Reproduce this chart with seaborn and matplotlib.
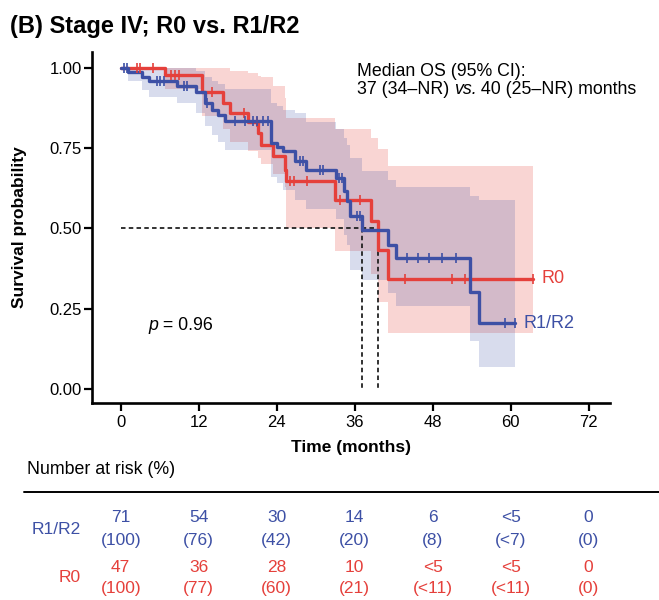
import numpy as np
import pandas as pd
import matplotlib
matplotlib.use("Agg")
import matplotlib.pyplot as plt
import seaborn as sns

# ---------------- data ----------------
# R1/R2 Kaplan-Meier steps
r12_time = [0, 1.2, 3.3, 4.4, 8.7, 11.6, 13.0, 14.0, 15.0, 16.0, 23.1, 24.0, 25.0, 26.8,
            28.5, 33.2, 34.3, 34.8, 35.3, 37.1, 41.2, 42.4, 53.7, 55.1]
r12_surv = [1.0, 0.986, 0.972, 0.958, 0.944, 0.923, 0.891, 0.870, 0.852, 0.833, 0.766, 0.752,
            0.740, 0.709, 0.683, 0.657, 0.616, 0.584, 0.540, 0.496, 0.450, 0.407, 0.304, 0.206]
r12_lower = [1.0, 0.958, 0.93, 0.91, 0.89, 0.86, 0.82, 0.79, 0.77, 0.745, 0.66, 0.64,
             0.62, 0.59, 0.56, 0.53, 0.48, 0.45, 0.37, 0.34, 0.30, 0.26, 0.15, 0.07]
r12_upper = [1.0, 1.0, 1.0, 1.0, 1.0, 0.99, 0.97, 0.96, 0.95, 0.935, 0.89, 0.88,
             0.87, 0.86, 0.83, 0.81, 0.78, 0.76, 0.72, 0.68, 0.65, 0.63, 0.60, 0.59]
r12_end = 60.7
r12_censor = [0.5, 0.9, 5.6, 6.1, 6.6, 9.7, 10.2, 13.3, 17.6, 19.1, 20.4, 20.9, 21.9, 22.7,
              27.6, 28.1, 30.7, 31.1, 33.6, 34.0, 36.4, 36.8, 44.0, 45.8, 47.4, 49.5,
              51.6, 59.1, 60.7]

# R0 Kaplan-Meier steps
r0_time = [0, 6.8, 12.5, 15.8, 16.8, 19.6, 21.2, 21.6, 23.5, 25.3, 25.5, 32.9, 38.5, 39.6, 41.2]
r0_surv = [1.0, 0.977, 0.923, 0.891, 0.860, 0.832, 0.797, 0.761, 0.725, 0.683, 0.647,
           0.590, 0.522, 0.432, 0.344]
r0_lower = [1.0, 0.935, 0.85, 0.81, 0.77, 0.74, 0.72, 0.70, 0.67, 0.63, 0.50,
            0.43, 0.36, 0.27, 0.175]
r0_upper = [1.0, 1.0, 1.0, 1.0, 0.99, 0.985, 0.975, 0.97, 0.943, 0.906, 0.845,
            0.81, 0.78, 0.746, 0.694]
r0_end = 63.5
r0_censor = [2.5, 3.0, 5.0, 7.8, 8.4, 8.9, 14.0, 18.9, 20.9, 26.0, 26.6, 28.6, 33.7,
             36.8, 43.7, 50.9, 52.9, 63.5]

median_r12 = 37.1
median_r0 = 39.6

groups = ["R1/R2", "R0"]
risk_times = [0, 12, 24, 36, 48, 60, 72]
risk_r12_n = ["71", "54", "30", "14", "6", "<5", "0"]
risk_r12_pct = ["(100)", "(76)", "(42)", "(20)", "(8)", "(<7)", "(0)"]
risk_r0_n = ["47", "36", "28", "10", "<5", "<5", "0"]
risk_r0_pct = ["(100)", "(77)", "(60)", "(21)", "(<11)", "(<11)", "(0)"]

x_ticks = [0, 12, 24, 36, 48, 60, 72]
y_ticks = [0.0, 0.25, 0.5, 0.75, 1.0]

# ---------------- style ----------------
RED = "#E5403B"
BLUE = "#3D50A5"
sns.set_style("ticks")
plt.rcParams["font.family"] = ["Liberation Sans", "DejaVu Sans"]
plt.rcParams["text.color"] = "black"
plt.rcParams["axes.labelcolor"] = "black"
plt.rcParams["xtick.color"] = "black"
plt.rcParams["ytick.color"] = "black"

fig = plt.figure(figsize=(6.59, 6.0), dpi=100)
ax = fig.add_axes([92 / 659, 197 / 600, 518 / 659, 351 / 600])

xmin, xmax = -4.415, 75.28
ymin, ymax = -0.0426, 1.0488


def ext(t, v, end):
    return np.array(list(t) + [end]), np.array(list(v) + [v[-1]])


rows = []
for g, t, s, end in [("R0", r0_time, r0_surv, r0_end), ("R1/R2", r12_time, r12_surv, r12_end)]:
    tt, ss = ext(t, s, end)
    for a, b in zip(tt, ss):
        rows.append({"group": g, "time": a, "surv": b})
df = pd.DataFrame(rows)

# confidence bands
for t, lo, hi, end, col, al in [(r0_time, r0_lower, r0_upper, r0_end, RED, 0.22),
                                (r12_time, r12_lower, r12_upper, r12_end, BLUE, 0.20)]:
    tt, ll = ext(t, lo, end)
    _, hh = ext(t, hi, end)
    ax.fill_between(tt, ll, hh, step="post", color=col, alpha=al, linewidth=0)

# median dashed lines
dash = (0, (2.5, 1.8))
ax.plot([0, median_r0], [0.5, 0.5], ls=dash, color="#222222", lw=1.3)
ax.plot([median_r12, median_r12], [0.5, 0.0], ls=dash, color="#222222", lw=1.3)
ax.plot([median_r0, median_r0], [0.5, 0.0], ls=dash, color="#222222", lw=1.3)

sns.lineplot(data=df, x="time", y="surv", hue="group", hue_order=["R0", "R1/R2"],
             palette={"R0": RED, "R1/R2": BLUE}, estimator=None, sort=False,
             drawstyle="steps-post", linewidth=2.4, legend=False, ax=ax)

# censor marks
for t, s, cens, col in [(r0_time, r0_surv, r0_censor, RED), (r12_time, r12_surv, r12_censor, BLUE)]:
    idx = np.searchsorted(np.array(t), np.array(cens), side="right") - 1
    ax.plot(cens, np.array(s)[idx], ls="none", marker="|", ms=6.5, mew=1.2, color=col)

ax.set_xlim(xmin, xmax)
ax.set_ylim(ymin, ymax)
ax.set_xticks(x_ticks)
ax.set_xticklabels([str(v) for v in x_ticks])
ax.set_yticks(y_ticks)
ax.set_yticklabels([f"{v:.2f}" for v in y_ticks])
for sp in ["top", "right"]:
    ax.spines[sp].set_visible(False)
for sp in ["left", "bottom"]:
    ax.spines[sp].set_linewidth(1.9)
    ax.spines[sp].set_color("black")
ax.tick_params(axis="both", length=5.5, width=1.6, colors="black", labelsize=12, pad=2)
ax.tick_params(axis="x", pad=3)
ax.set_xlabel("Time (months)", fontsize=12.5, fontweight="bold", labelpad=7)
ax.set_ylabel("Survival probability", fontsize=12.5, fontweight="bold")
ax.yaxis.set_label_coords(-0.125, 0.5)

# end labels
ax.text(r0_end + 1.2, r0_surv[-1], "R0", color=RED, fontsize=13, va="center", ha="left")
ax.text(r12_end + 1.2, r12_surv[-1], "R1/R2", color=BLUE, fontsize=13, va="center", ha="left")

# annotations
ax.text(36.3, 0.988, "Median OS (95% CI):", fontsize=12.8, va="center", ha="left")
t1 = ax.text(36.3, 0.932, "37 (34\u2013NR) ", fontsize=12.8, va="center", ha="left")
t2 = ax.annotate("vs.", xy=(1, 0), xycoords=t1, fontsize=12.8, style="italic",
                 va="bottom", ha="left")
ax.annotate(" 40 (25\u2013NR) months", xy=(1, 0), xycoords=t2, fontsize=12.8,
            va="bottom", ha="left")
p1 = ax.text(4.2, 0.197, "p", fontsize=12.8, style="italic", va="center", ha="left")
ax.annotate(" = 0.96", xy=(1, 0), xycoords=p1, fontsize=12.8, va="bottom", ha="left")

# title
fig.text(10 / 659, 1 - 27 / 600, "(B) Stage IV; R0 vs. R1/R2", fontsize=17,
         fontweight="bold", va="center", ha="left")

# ---------------- risk table ----------------
ax2 = fig.add_axes([92 / 659, 0, 518 / 659, 140 / 600])
ax2.set_xlim(xmin, xmax)
ax2.set_ylim(600, 460)
ax2.axis("off")
ax2.text(-14.4, 469, "Number at risk (%)", fontsize=12.8, va="center", ha="left")
ax2.plot([-14.9, 82.8], [492, 492], color="black", lw=1.4, clip_on=False)
ax2.text(-6.2, 529, "R1/R2", color=BLUE, fontsize=12.5, va="center", ha="right")
ax2.text(-6.2, 578, "R0", color=RED, fontsize=12.5, va="center", ha="right")
for t, a, b, c, d in zip(risk_times, risk_r12_n, risk_r12_pct, risk_r0_n, risk_r0_pct):
    ax2.text(t, 518, a, color=BLUE, fontsize=12.5, va="center", ha="center")
    ax2.text(t, 541, b, color=BLUE, fontsize=12.5, va="center", ha="center")
    ax2.text(t, 567, c, color=RED, fontsize=12.5, va="center", ha="center")
    ax2.text(t, 589, d, color=RED, fontsize=12.5, va="center", ha="center")

fig.savefig("out.png", dpi=100)
